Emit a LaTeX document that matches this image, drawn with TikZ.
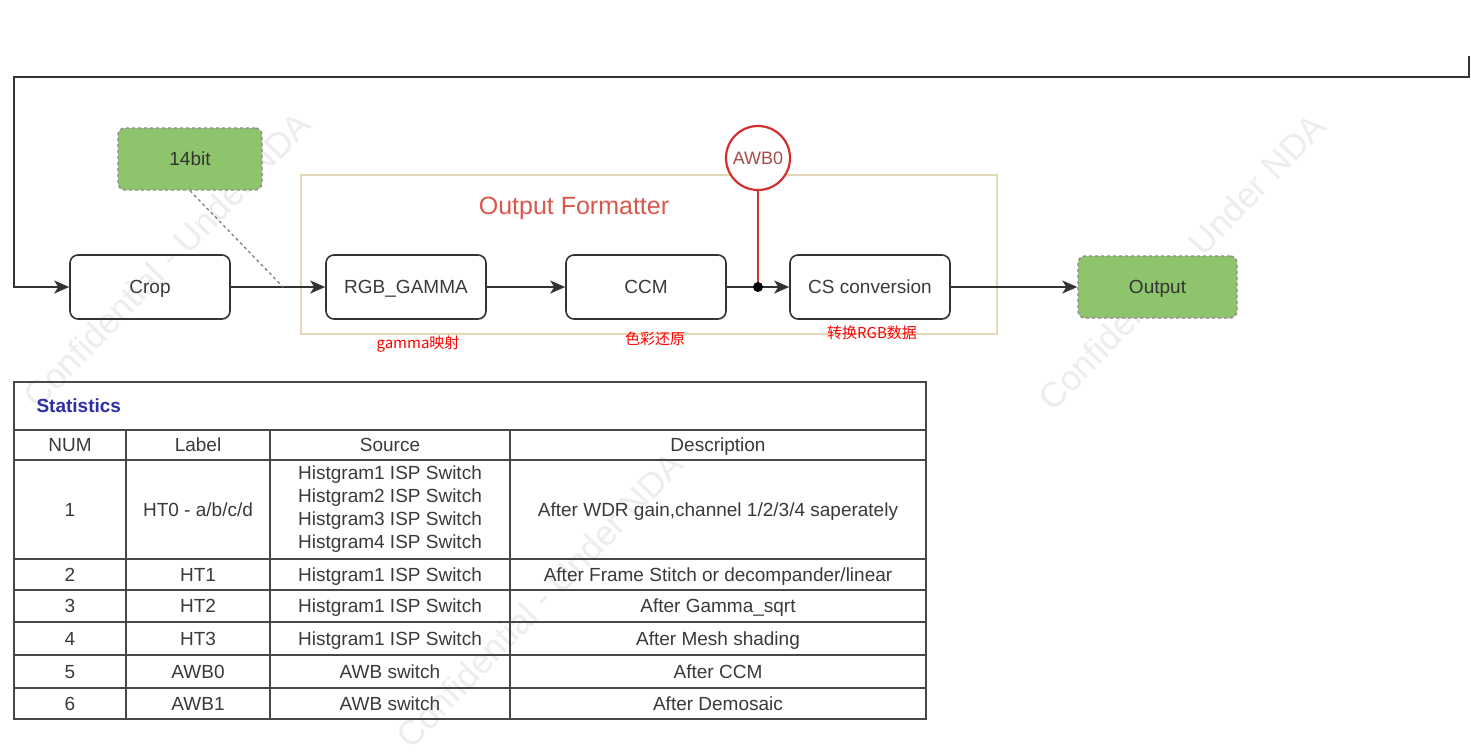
\documentclass[tikz,border=0pt]{standalone}
\usepackage{fontspec}
\setmainfont{Liberation Sans}
\newfontfamily\cjkfont{Noto Sans CJK SC}
\usetikzlibrary{arrows.meta}

\definecolor{lineGray}{HTML}{333333}
\definecolor{textGray}{HTML}{3A3A3A}
\definecolor{boxGreen}{HTML}{8DC46C}
\definecolor{dashPurple}{HTML}{9A8096}
\definecolor{frameTan}{HTML}{E3D8B6}
\definecolor{fmtRed}{HTML}{D9584E}
\definecolor{awbRed}{HTML}{D42F2F}
\definecolor{awbText}{HTML}{A84C4C}
\definecolor{statBlue}{HTML}{2B2FA8}

\tikzset{
  block/.style={draw=lineGray, line width=1.6pt, rounded corners=8pt,
    minimum width=160pt, minimum height=64pt, text=textGray,
    text height=14pt, text depth=1pt,
    font={\fontsize{19}{19}\selectfont}},
  greenbox/.style={draw=dashPurple, dashed, line width=1.4pt, fill=boxGreen,
    rounded corners=7pt, text=black!80, text height=14pt, text depth=1pt,
    font={\fontsize{19}{19}\selectfont}},
  flow/.style={draw=lineGray, line width=1.6pt, -{Stealth[length=15pt, width=13pt, inset=4pt]}},
  note/.style={text=red, font={\cjkfont\fontsize{15}{15}\selectfont}},
  cell/.style={text=textGray, align=center, text height=14pt, text depth=1pt,
    font={\fontsize{19}{23}\selectfont}},
  grid/.style={draw=lineGray!90, line width=1.8pt},
  wmark/.style={text=gray!14, font={\fontsize{35}{35}\selectfont}, rotate=46}
}

\begin{document}
\begin{tikzpicture}[x=1pt, y=-1pt]

\useasboundingbox [fill=white] (0,0) rectangle (1471,753);

% watermarks
\node [wmark] (wm1) at (167,260) {Confidential - Under NDA};
\node [wmark] (wm2) at (540,600) {Confidential - Under NDA};
\node [wmark] (wm3) at (1182,262) {Confidential - Under NDA};


\node [draw=frameTan, line width=1.3pt, minimum width=696pt, minimum height=159pt]
 (fmt) at (649,254.5) {};

\node [text=fmtRed, font={\fontsize{25}{25}\selectfont}] (fmttitle) at (574,208) {Output Formatter};


\node [block] (crop) at (150,287) {Crop};
\node [block] (gamma) at (406,287) {RGB\_GAMMA};
\node [block] (ccm) at (646,287) {CCM};
\node [block] (csc) at (870,287) {CS conversion};

\node [greenbox, minimum width=144pt, minimum height=62pt] (bits) at (190,159) {14bit};
\node [greenbox, minimum width=159pt, minimum height=62pt] (output) at (1157.5,287) {Output};

\node [circle, draw=awbRed, line width=2.2pt, fill=white, minimum size=64pt, inner sep=0pt,
 text=awbText, font={\fontsize{18}{18}\selectfont}] (awb) at (758,158) {AWB0};

\coordinate (feed) at (1469,56);
\coordinate (loop) at (14,77);
\coordinate (join) at (283,287);
\coordinate (tap) at (758,287);

\draw [flow] (feed) |- (loop) |- (crop.west);
\draw [flow] (crop) -- (gamma);
\draw [dashed, draw=gray, line width=1.3pt] (bits.south) -- (join);
\draw [flow] (gamma) -- (ccm);
\draw [flow] (ccm) -- (csc);
\draw [awbRed, line width=1.6pt] (awb) -- (tap);
\fill [black] (tap) circle (5pt);
\draw [flow] (csc) -- (output);

\node [note] (gammanote) at (418,344) {gamma映射};
\node [note] (ccmnote) at (655,339) {色彩还原};
\node [note] (cscnote) at (872,333) {转换RGB数据};


% statistics table
\draw [grid] (14,382) rectangle (926,719);
\draw [grid] (14,430) -- (926,430);
\draw [grid] (14,460) -- (926,460);
\draw [grid] (14,559) -- (926,559);
\draw [grid] (14,590) -- (926,590);
\draw [grid] (14,622) -- (926,622);
\draw [grid] (14,655) -- (926,655);
\draw [grid] (14,688) -- (926,688);
\draw [grid] (126,430) -- (126,719);
\draw [grid] (270,430) -- (270,719);
\draw [grid] (510,430) -- (510,719);

\node [anchor=west, text=statBlue, font={\bfseries\fontsize{19}{19}\selectfont}] (stat) at (33,406) {Statistics};

\node [cell] (hnum) at (70,445) {NUM};
\node [cell] (hlab) at (198,445) {Label};
\node [cell] (hsrc) at (390,445) {Source};
\node [cell] (hdesc) at (718,445) {Description};

\node [cell] (num1) at (70,509.5) {1};
\node [cell] (lab1) at (198,509.5) {HT0 - a/b/c/d};
\node [cell, text height=, text depth=] (src1) at (390,509.5) {Histgram1 ISP Switch\\Histgram2 ISP Switch\\Histgram3 ISP Switch\\Histgram4 ISP Switch};
\node [cell] (desc1) at (718,509.5) {After WDR gain,channel 1/2/3/4 saperately};

\node [cell] (num2) at (70,574.5) {2};
\node [cell] (lab2) at (198,574.5) {HT1};
\node [cell] (src2) at (390,574.5) {Histgram1 ISP Switch};
\node [cell] (desc2) at (718,574.5) {After Frame Stitch or decompander/linear};

\node [cell] (num3) at (70,606) {3};
\node [cell] (lab3) at (198,606) {HT2};
\node [cell] (src3) at (390,606) {Histgram1 ISP Switch};
\node [cell] (desc3) at (718,606) {After Gamma\_sqrt};

\node [cell] (num4) at (70,638.5) {4};
\node [cell] (lab4) at (198,638.5) {HT3};
\node [cell] (src4) at (390,638.5) {Histgram1 ISP Switch};
\node [cell] (desc4) at (718,638.5) {After Mesh shading};

\node [cell] (num5) at (70,671.5) {5};
\node [cell] (lab5) at (198,671.5) {AWB0};
\node [cell] (src5) at (390,671.5) {AWB switch};
\node [cell] (desc5) at (718,671.5) {After CCM};

\node [cell] (num6) at (70,703.5) {6};
\node [cell] (lab6) at (198,703.5) {AWB1};
\node [cell] (src6) at (390,703.5) {AWB switch};
\node [cell] (desc6) at (718,703.5) {After Demosaic};

\end{tikzpicture}
\end{document}
